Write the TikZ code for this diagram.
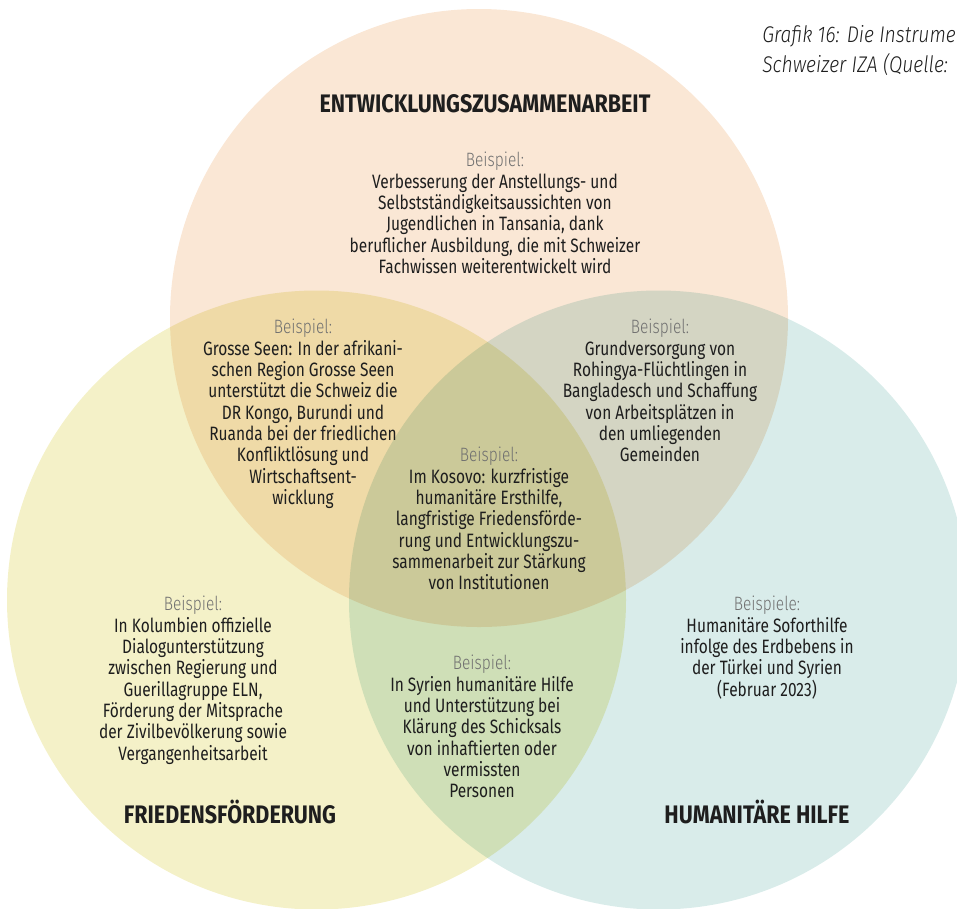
\documentclass[tikz,border=0pt]{standalone}
\usepackage{fontspec}
\setmainfont{Fira Sans}[FakeStretch=0.8]
\newfontfamily\leicht{Fira Sans Light}[FakeStretch=0.8]
\newfontfamily\kopf{Fira Sans}[FakeStretch=0.85]
\newfontfamily\quelle{Fira Sans Light}[FakeStretch=0.85]
\definecolor{pfirsich}{HTML}{FAE7D5}
\definecolor{zitrone}{HTML}{F4F1C8}
\definecolor{lagune}{HTML}{D9ECEA}
\definecolor{tinte}{HTML}{1E1E1E}
\definecolor{grau}{HTML}{707070}
\tikzset{kreis/.style={draw=none},
  titel/.style={font=\kopf\fontsize{19}{22}\selectfont\bfseries,text=tinte,inner sep=0pt},
  beispiel/.style={font=\fontsize{14.5}{16}\selectfont,text=tinte,align=center,inner sep=0pt,anchor=north}}
\newcommand{\bsp}[1]{{\leicht\color{grau}#1}}

\begin{document}
\begin{tikzpicture}[x=0.75pt,y=-0.75pt]
                  \useasboundingbox (0,0) rectangle (957,908);
                  \coordinate (entw) at (479,318);
                  \coordinate (fried) at (316.5,600);
                  \coordinate (hum) at (658.5,600);
                  \begin{scope}[blend group=multiply]
                  \fill[kreis,pfirsich] (entw) circle (309);
                  \fill[kreis,zitrone] (fried) circle (309.5);
                  \fill[kreis,lagune] (hum) circle (309.5);
                  \end{scope}
                  \node[anchor=north west,inner sep=0pt,align=left,text=tinte,
                    font=\quelle\itshape\fontsize{17}{22.5}\selectfont] (grafik) at (762,25)
                    {Grafik 16: Die Instrume\\Schweizer IZA (Quelle:};
                  \node[titel] (entw-titel) at (485,104) {ENTWICKLUNGSZUSAMMENARBEIT};
                  \node[titel] (fried-titel) at (230,812) {FRIEDENSFÖRDERUNG};
                  \node[titel] (hum-titel) at (757,812) {HUMANITÄRE HILFE};
                  \node[beispiel] (entw-bsp) at (495,152) {\bsp{Beispiel:}\\
                    Verbesserung der Anstellungs- und\\Selbstständigkeitsaussichten von\\
                    Jugendlichen in Tansania, dank\\beruflicher Ausbildung, die mit Schweizer\\
                    Fachwissen weiterentwickelt wird};
                  \node[beispiel] (entw-fried-bsp) at (303,319) {\bsp{Beispiel:}\\
                    Grosse Seen: In der afrikani-\\schen Region Grosse Seen\\
                    unterstützt die Schweiz die\\DR Kongo, Burundi und\\
                    Ruanda bei der friedlichen\\Konfliktlösung und\\
                    Wirtschaftsent-\\wicklung};
                  \node[beispiel] (entw-hum-bsp) at (660,319) {\bsp{Beispiel:}\\
                    Grundversorgung von\\Rohingya-Flüchtlingen in\\
                    Bangladesch und Schaffung\\von Arbeitsplätzen in\\
                    den umliegenden\\Gemeinden};
                  \node[beispiel] (alle-bsp) at (489,447) {\bsp{Beispiel:}\\
                    Im Kosovo: kurzfristige\\humanitäre Ersthilfe,\\
                    langfristige Friedensförde-\\rung und Entwicklungszu-\\
                    sammenarbeit zur Stärkung\\von Institutionen};
                  \node[beispiel] (fried-bsp) at (193,596) {\bsp{Beispiel:}\\
                    In Kolumbien offizielle\\Dialogunterstützung\\
                    zwischen Regierung und\\Guerillagruppe ELN,\\
                    Förderung der Mitsprache\\der Zivilbevölkerung sowie\\
                    Vergangenheitsarbeit};
                  \node[beispiel] (fried-hum-bsp) at (482,655) {\bsp{Beispiel:}\\
                    In Syrien humanitäre Hilfe\\und Unterstützung bei\\
                    Klärung des Schicksals\\von inhaftierten oder\\
                    vermissten\\Personen};
                  \node[beispiel] (hum-bsp) at (767,596) {\bsp{Beispiele:}\\
                    Humanitäre Soforthilfe\\infolge des Erdbebens in\\
                    der Türkei und Syrien\\(Februar 2023)};
              \end{tikzpicture}
\end{document}
